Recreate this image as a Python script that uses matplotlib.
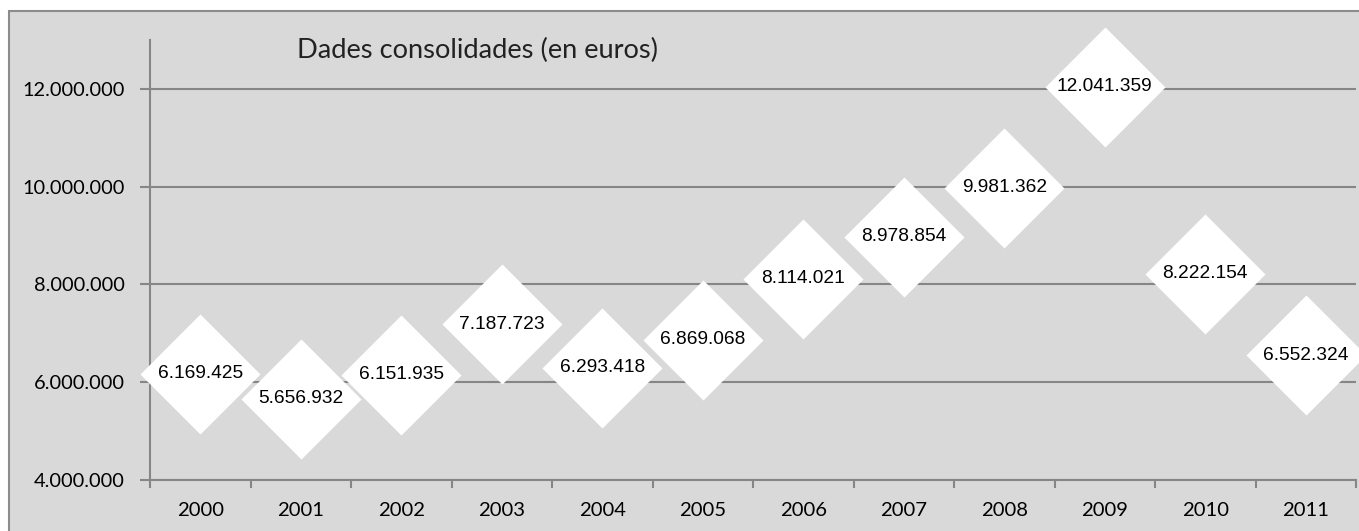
import matplotlib.pyplot as plt
from matplotlib.patches import Rectangle
from matplotlib.ticker import FuncFormatter

# --- DATA ---
years = ['2000', '2001', '2002', '2003', '2004', '2005',
         '2006', '2007', '2008', '2009', '2010', '2011']
values = [6169425, 5656932, 6151935, 7187723, 6293418, 6869068,
          8114021, 8978854, 9981362, 12041359, 8222154, 6552324]
title_text = 'Dades consolidades (en euros)'


def fmt_dots(v, _pos=None):
    return f"{int(v):,}".replace(',', '.')


W, H = 1359, 531
fig = plt.figure(figsize=(W / 100, H / 100), dpi=100, facecolor='white')

# outer chart box (behind everything)
fig.patches.append(Rectangle((9 / W, -0.1), 1.0, 1.1 - 11 / H, transform=fig.transFigure,
                             facecolor='#d9d9d9', edgecolor='#8c8c8c', linewidth=1.5,
                             zorder=-10))

ax = fig.add_axes([150 / W, (H - 480) / H, (1356 - 150) / W, (480 - 40) / H])
ax.set_facecolor('none')

x = range(len(years))
ax.plot(x, values, linestyle='none', marker='D', markersize=61,
        markerfacecolor='white', markeredgecolor='none', zorder=3, clip_on=False)
for i, v in zip(x, values):
    ax.text(i, v, fmt_dots(v), ha='center', va='center', fontsize=13.8,
            family='Liberation Sans', color='black', zorder=4)

ax.set_xlim(-0.5, len(years) - 0.5)
ax.set_ylim(4000000, 13000000)
ax.set_yticks([4000000, 6000000, 8000000, 10000000, 12000000])
ax.yaxis.set_major_formatter(FuncFormatter(fmt_dots))
ax.set_xticks(list(x))
ax.set_xticklabels(years)
ax.set_xticks([i + 0.5 for i in range(-1, len(years))], minor=True)

ax.grid(axis='y', color='#868686', linewidth=1.5, zorder=1)
ax.set_axisbelow(True)
for s in ['top', 'right']:
    ax.spines[s].set_visible(False)
for s in ['left', 'bottom']:
    ax.spines[s].set_color('#868686')
    ax.spines[s].set_linewidth(1.5)

ax.tick_params(axis='y', length=7, width=1.5, color='#868686', pad=11,
               labelsize=14.4, labelfontfamily='Lato')
ax.tick_params(axis='x', which='major', length=0, pad=16,
               labelsize=14.6, labelfontfamily='Lato')
ax.tick_params(axis='x', which='minor', length=6, width=1.5, color='#868686')

ax.text(297 / W, 1 - 50 / H, title_text, transform=fig.transFigure, ha='left', va='center',
        fontsize=19.6, family='Lato', color='#222222')

fig.savefig('out.png', dpi=100, facecolor='white')
